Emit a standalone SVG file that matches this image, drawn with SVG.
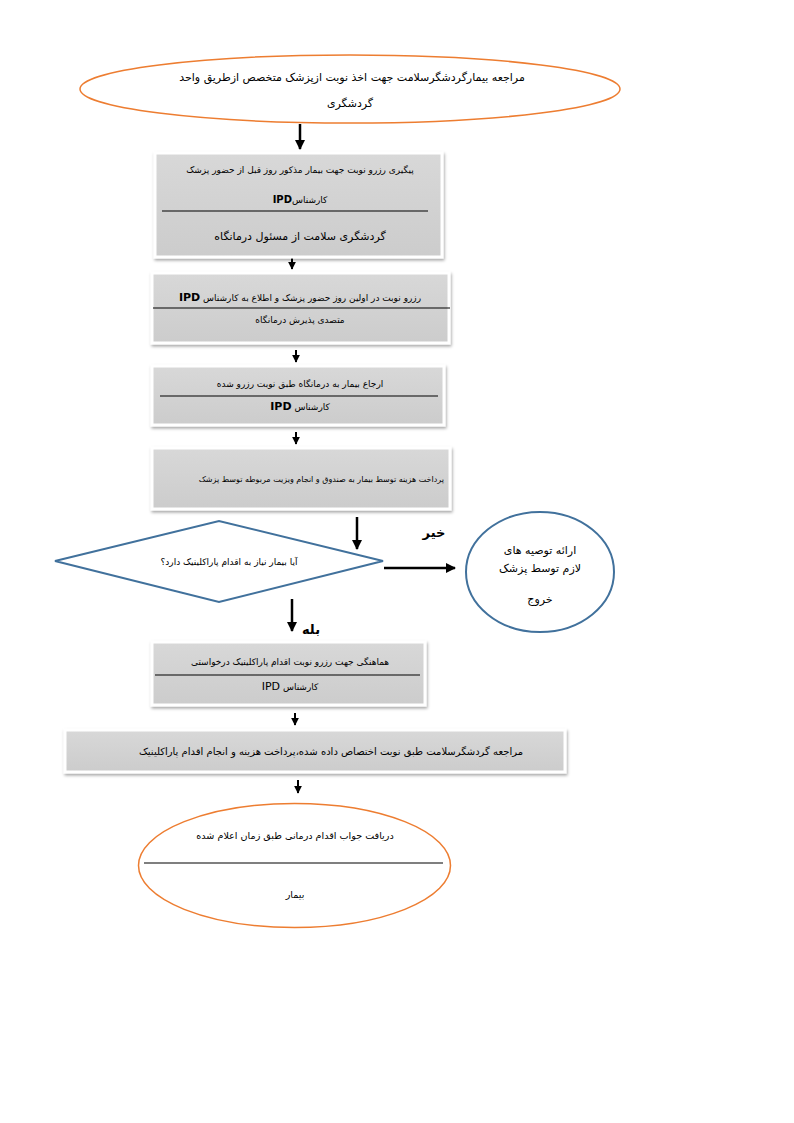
<svg xmlns="http://www.w3.org/2000/svg" width="794" height="1123" viewBox="0 0 794 1123">
<defs>
<marker id="ah" viewBox="0 0 10 10" refX="9" refY="5" markerWidth="4" markerHeight="4" orient="auto" markerUnits="strokeWidth"><path d="M0,0 L10,5 L0,10 z" fill="#000"/></marker>
<filter id="sh" x="-5%" y="-10%" width="110%" height="125%"><feDropShadow dx="1" dy="2" stdDeviation="1.5" flood-color="#000" flood-opacity="0.35"/></filter>
<linearGradient id="g" x1="0" y1="0" x2="0" y2="1"><stop offset="0" stop-color="#d8d8d8"/><stop offset="1" stop-color="#cccccc"/></linearGradient>
</defs>
<style>
text{font-family:"DejaVu Sans","Noto Sans",sans-serif;font-size:9px;fill:#000;text-anchor:middle;direction:rtl}
.box{fill:url(#g);stroke:#fff;stroke-width:3;filter:url(#sh)}
.orange{fill:#fff;stroke:#ED7D31;stroke-width:1.5}
.blue{fill:#fff;stroke:#41719C;stroke-width:2}
.sep{stroke:#000;stroke-width:1.2}
.con{stroke:#000;fill:none}
.big{font-size:11px}
.lbl{font-size:13px;font-weight:bold}
</style>
<rect width="794" height="1123" fill="#fff"/>
<g id="connectors">
<line class="con" x1="300" y1="124" x2="300" y2="149" stroke-width="2.5" marker-end="url(#ah)"/>
<line class="con" x1="292" y1="258" x2="292" y2="269" stroke-width="2" marker-end="url(#ah)"/>
<line class="con" x1="296" y1="350" x2="296" y2="362" stroke-width="2" marker-end="url(#ah)"/>
<line class="con" x1="296" y1="432" x2="296" y2="444" stroke-width="2" marker-end="url(#ah)"/>
<line class="con" x1="357" y1="517" x2="357" y2="549" stroke-width="2.5" marker-end="url(#ah)"/>
<line class="con" x1="384" y1="568" x2="455" y2="568" stroke-width="2.5" marker-end="url(#ah)"/>
<line class="con" x1="292" y1="599" x2="292" y2="631" stroke-width="2.5" marker-end="url(#ah)"/>
<line class="con" x1="295" y1="713" x2="295" y2="725" stroke-width="2" marker-end="url(#ah)"/>
<line class="con" x1="298" y1="780" x2="298" y2="793" stroke-width="2" marker-end="url(#ah)"/>
<text class="lbl" x="434" y="537">خیر</text>
<text class="lbl" x="311" y="634">بله</text>
</g>
<g id="start">
<ellipse class="orange" cx="350" cy="89" rx="270" ry="34"/>
<text class="big" x="352" y="81">مراجعه بیمارگردشگرسلامت جهت اخذ نوبت ازپزشک متخصص ازطریق واحد</text>
<text class="big" x="350" y="107">گردشگری</text>
</g>
<g id="n1">
<rect class="box" x="155" y="153" width="287" height="104"/>
<text x="300" y="173">پیگیری رزرو نوبت جهت بیمار مذکور روز قبل از حضور پزشک</text>
<text x="300" y="203">کارشناس<tspan font-weight="bold" font-size="10">IPD</tspan></text>
<line class="sep" x1="162" y1="211" x2="428" y2="211"/>
<text class="big" x="300" y="240">گردشگری سلامت از مسئول درمانگاه</text>
</g>
<g id="n2">
<rect class="box" x="152" y="273" width="297" height="70"/>
<text x="300" y="301">رزرو نوبت در اولین روز حضور پزشک و اطلاع به کارشناس <tspan font-weight="bold" font-size="11">IPD</tspan></text>
<line class="sep" x1="153" y1="308" x2="450" y2="308"/>
<text x="300" y="323">متصدی پذیرش درمانگاه</text>
</g>
<g id="n3">
<rect class="box" x="152" y="366" width="292" height="59"/>
<text x="300" y="387">ارجاع بیمار به درمانگاه طبق نوبت رزرو شده</text>
<line class="sep" x1="160" y1="396" x2="438" y2="396"/>
<text x="300" y="410">کارشناس <tspan font-weight="bold" font-size="11">IPD</tspan></text>
</g>
<g id="n4">
<rect class="box" x="152" y="448" width="298" height="61"/>
<text x="444" y="482" style="text-anchor:start;font-size:8px">پرداخت هزینه توسط بیمار به صندوق و انجام ویزیت مربوطه توسط پزشک</text>
</g>
<g id="decision">
<polygon class="blue" points="55,561 219,521 383,561 219,602"/>
<text x="229" y="565">آیا بیمار نیاز به اقدام پاراکلینیک دارد؟</text>
</g>
<g id="exit">
<ellipse class="blue" cx="540" cy="572" rx="74" ry="60"/>
<text class="big" x="540" y="554">ارائه توصیه های</text>
<text class="big" x="540" y="572">لازم توسط پزشک</text>
<text class="big" x="540" y="603">خروج</text>
</g>
<g id="n5">
<rect class="box" x="152" y="642" width="273" height="63"/>
<text x="290" y="665">هماهنگی جهت رزرو نوبت اقدام پاراکلینیک درخواستی</text>
<line class="sep" x1="155" y1="675" x2="420" y2="675"/>
<text x="290" y="690">کارشناس <tspan font-size="11">IPD</tspan></text>
</g>
<g id="n6">
<rect class="box" x="65" y="730" width="500" height="42"/>
<text x="331" y="755" style="font-size:10px">مراجعه گردشگرسلامت طبق نوبت اختصاص داده شده،پرداخت هزینه و انجام اقدام پاراکلینیک</text>
</g>
<g id="end">
<ellipse class="orange" cx="294.5" cy="865.5" rx="156" ry="62"/>
<text x="295" y="839" style="font-size:9.6px">دریافت جواب اقدام درمانی طبق زمان اعلام شده</text>
<line class="sep" x1="144" y1="863" x2="443" y2="863" stroke-width="1.5"/>
<text x="295" y="898" style="font-size:9.6px">بیمار</text>
</g>
</svg>
